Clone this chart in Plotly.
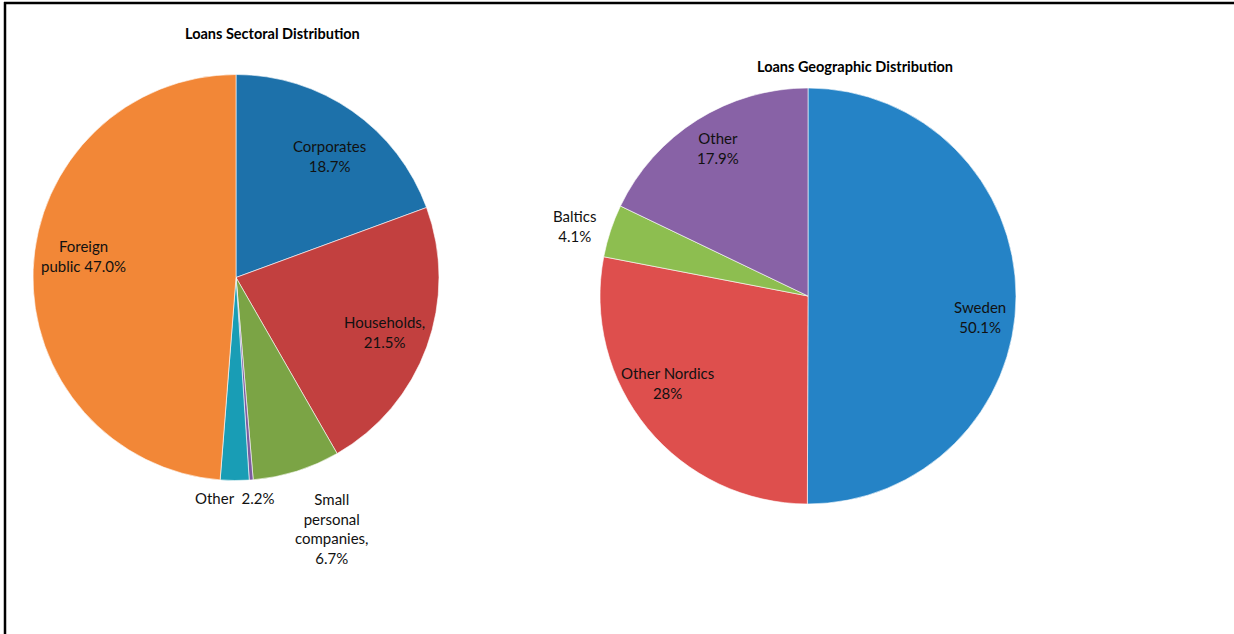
import plotly.graph_objects as go

W, H = 1234, 634

# Sectoral split of loans (%)
sector_names = ["Corporates", "Households", "Small personal companies", "Other sector", "Other", "Foreign public"]
sector_values = [18.7, 21.5, 6.7, 0.3, 2.2, 47.0]
sector_colors = ["#1D71AA", "#C2403F", "#7BA445", "#7C5BA0", "#199DB5", "#F28737"]
sector_labels = ["Corporates<br>18.7%", "Households,<br>21.5%", "Small<br>personal<br>companies,<br>6.7%",
                 "", "Other  2.2%", "Foreign<br>public 47.0%"]

# Geographic split of loans (%)
geo_names = ["Sweden", "Other Nordics", "Baltics", "Other"]
geo_values = [50.1, 28, 4.1, 17.9]
geo_colors = ["#2583C6", "#DE4F4D", "#8DBE50", "#8862A6"]
geo_labels = ["Sweden<br>50.1%", "Other Nordics<br>28%", "Baltics<br>4.1%", "Other<br>17.9%"]

# Label anchor points in pixels (x, y from top)
sector_label_pos = [(330, 156), (384, 332), (332, 528), None, (234, 498), (83, 256)]
geo_label_pos = [(980, 317), (667, 383), (574, 226), (718, 148)]


def px_dom(x0, x1, y0, y1):
    return dict(x=[x0 / W, x1 / W], y=[1 - y1 / H, 1 - y0 / H])


fig = go.Figure()
fig.add_trace(go.Pie(
    labels=sector_names, values=sector_values, sort=False, direction="clockwise", rotation=0,
    marker=dict(colors=sector_colors, line=dict(color="white", width=0.6)),
    textinfo="none", hoverinfo="label+percent", showlegend=False,
    domain=px_dom(33, 439, 74, 481),
))
fig.add_trace(go.Pie(
    labels=geo_names, values=geo_values, sort=False, direction="clockwise", rotation=0,
    marker=dict(colors=geo_colors, line=dict(color="white", width=0.6)),
    textinfo="none", hoverinfo="label+percent", showlegend=False,
    domain=px_dom(600, 1016, 88, 504),
))

font_lbl = dict(family="Lato, Open Sans, sans-serif", size=15, color="#111111")
annotations = []
for txt, pos in list(zip(sector_labels, sector_label_pos)) + list(zip(geo_labels, geo_label_pos)):
    if pos is None or not txt:
        continue
    annotations.append(dict(x=pos[0] / W, y=1 - pos[1] / H, xref="paper", yref="paper",
                            text=txt, showarrow=False, font=font_lbl, align="center",
                            xanchor="center", yanchor="middle"))

font_title = dict(family="Lato, Open Sans, sans-serif", size=14.5, color="#000000")
annotations.append(dict(x=272 / W, y=1 - 33 / H, xref="paper", yref="paper",
                        text="<b>Loans Sectoral Distribution</b>", showarrow=False,
                        font=font_title, xanchor="center", yanchor="middle"))
annotations.append(dict(x=855 / W, y=1 - 66 / H, xref="paper", yref="paper",
                        text="<b>Loans Geographic Distribution</b>", showarrow=False,
                        font=font_title, xanchor="center", yanchor="middle"))

# Frame lines along the top and left edges
shapes = [
    dict(type="line", xref="paper", yref="paper", x0=4 / W, x1=1, y0=1 - 3 / H, y1=1 - 3 / H,
         line=dict(color="black", width=2.5)),
    dict(type="line", xref="paper", yref="paper", x0=5 / W, x1=5 / W, y0=0, y1=1 - 2 / H,
         line=dict(color="black", width=2.5)),
]

fig.update_layout(
    width=W, height=H, margin=dict(l=0, r=0, t=0, b=0),
    paper_bgcolor="white", plot_bgcolor="white",
    annotations=annotations, shapes=shapes,
)

fig.write_html("out.html")
